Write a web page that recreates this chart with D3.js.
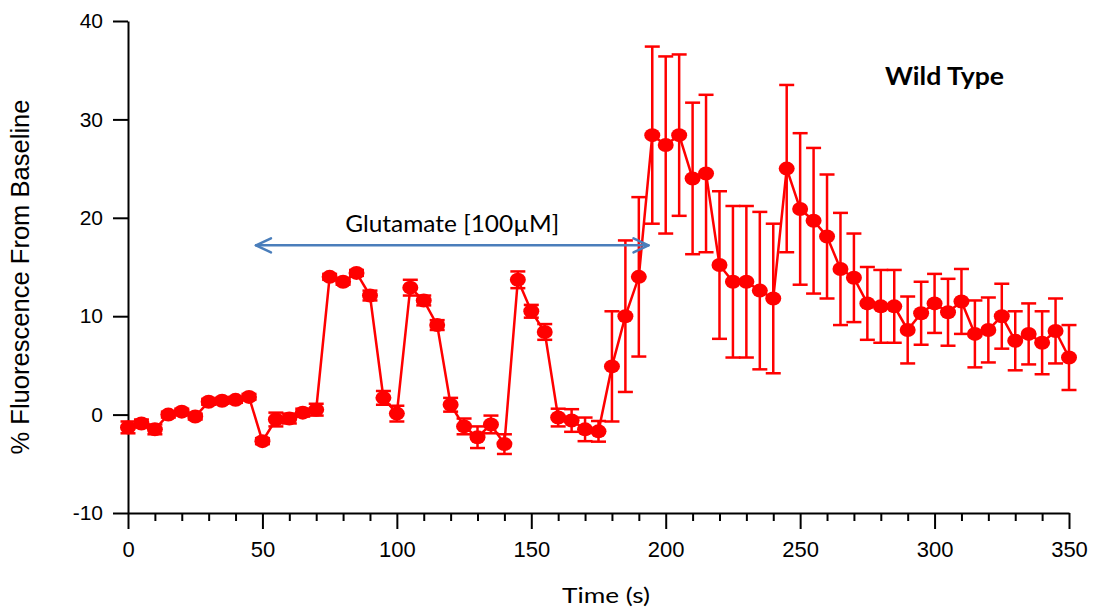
<!DOCTYPE html>
<html>
<head>
<meta charset="utf-8">
<script src="https://cdn.jsdelivr.net/npm/d3@7"></script>
<style>
  body { margin: 0; background: #fff; }
  #chart text { fill: #000; }
</style>
</head>
<body>
<div id="chart"></div>
<script>
// time points (s)
var times = [0, 5, 10, 15, 20, 25, 30, 35, 40, 45, 50, 55, 60, 65, 70,
  75, 80, 85, 90, 95, 100, 105, 110, 115, 120, 125, 130, 135, 140,
  145, 150, 155, 160, 165, 170, 175, 180, 185, 190, 195, 200, 205, 210,
  215, 220, 225, 230, 235, 240, 245, 250, 255, 260, 265, 270, 275, 280,
  285, 290, 295, 300, 305, 310, 315, 320, 325, 330, 335, 340, 345, 350];

// % fluorescence from baseline
var means = [-1.3, -0.9, -1.5, 0.0, 0.3, -0.2, 1.3, 1.4, 1.5, 1.8, -2.7, -0.5, -0.4, 0.2, 0.5,
  14.0, 13.5, 14.4, 12.1, 1.7, 0.1, 12.9, 11.6, 9.1, 1.0, -1.2, -2.3, -1.0, -3.0,
  13.7, 10.5, 8.4, -0.3, -0.6, -1.5, -1.7, 4.9, 10.0, 14.0, 28.4, 27.4, 28.4, 24.0,
  24.5, 15.2, 13.5, 13.5, 12.6, 11.8, 25.0, 20.9, 19.7, 18.1, 14.8, 13.9, 11.3, 11.0,
  11.0, 8.6, 10.3, 11.3, 10.4, 11.5, 8.2, 8.6, 10.0, 7.5, 8.2, 7.3, 8.5, 5.8];

// error (+/-)
var errors = [0.6, 0.4, 0.5, 0.3, 0.3, 0.3, 0.3, 0.3, 0.3, 0.3, 0.3, 0.7, 0.5, 0.4, 0.6,
  0.3, 0.3, 0.3, 0.5, 0.7, 0.8, 0.8, 0.5, 0.5, 0.7, 0.8, 1.1, 0.9, 1.0,
  0.85, 0.65, 0.8, 0.9, 1.15, 1.2, 1.05, 5.6, 7.7, 8.1, 9.0, 9.0, 8.2, 7.7,
  8.0, 7.5, 7.7, 7.7, 8.0, 7.6, 8.5, 7.7, 7.4, 6.3, 5.7, 4.5, 3.7, 3.7,
  3.7, 3.4, 3.2, 3.0, 3.4, 3.3, 3.4, 3.3, 3.3, 3.0, 3.1, 3.2, 3.3, 3.3];

var xMajorTicks = [0, 50, 100, 150, 200, 250, 300, 350];
var yTicks = [-10, 0, 10, 20, 30, 40];

// glutamate application window (s) and arrow level
var glutStart = 47.6;
var glutEnd = 193.6;
var glutLevel = 17.2;

var width = 1096, height = 612;
var red = '#ff0000', blue = '#4a7ebb';

var data = times.map(function (t, i) {
  return { t: t, v: means[i], e: errors[i] };
});

var svg = d3.select('#chart').append('svg')
  .attr('width', width)
  .attr('height', height);

var x = d3.scaleLinear().domain([0, 350]).range([128, 1069]);
var y = d3.scaleLinear().domain([-10, 40]).range([513, 21]);

var plain = function (d) { return String(d); }; // hyphen minus, like the original

// y axis
var yAxis = svg.append('g')
  .attr('transform', 'translate(' + x(0) + ',0)')
  .call(d3.axisLeft(y).tickValues(yTicks).tickFormat(plain)
    .tickSize(15).tickPadding(10).tickSizeOuter(0));
yAxis.select('.domain').attr('stroke', '#000').attr('stroke-width', 2);
yAxis.selectAll('.tick line').attr('stroke', '#000').attr('stroke-width', 2);
yAxis.selectAll('.tick text')
  .attr('font-family', 'Liberation Sans, Arial, sans-serif')
  .attr('font-size', 21);

// x axis: minor ticks every 10, majors every 50
var minorTicks = times.filter(function (t) { return t % 10 === 0 && t % 50 !== 0; });
var xMinor = svg.append('g')
  .attr('transform', 'translate(0,' + y(-10) + ')')
  .call(d3.axisBottom(x).tickValues(minorTicks).tickSize(8).tickFormat('').tickSizeOuter(0));
xMinor.select('.domain').attr('stroke', '#000').attr('stroke-width', 2);
xMinor.selectAll('.tick line').attr('stroke', '#000').attr('stroke-width', 2);

var xMajor = svg.append('g')
  .attr('transform', 'translate(0,' + y(-10) + ')')
  .call(d3.axisBottom(x).tickValues(xMajorTicks).tickFormat(plain)
    .tickSize(16).tickPadding(12).tickSizeOuter(0));
xMajor.select('.domain').remove();
xMajor.selectAll('.tick line').attr('stroke', '#000').attr('stroke-width', 2);
xMajor.selectAll('.tick text')
  .attr('font-family', 'Liberation Sans, Arial, sans-serif')
  .attr('font-size', 22);

// axis titles
svg.append('text')
  .attr('x', 606).attr('y', 603)
  .attr('text-anchor', 'middle')
  .attr('font-family', 'Lato, sans-serif')
  .attr('font-size', 22)
  .attr('textLength', 88)
  .attr('lengthAdjust', 'spacingAndGlyphs')
  .text('Time (s)');

svg.append('text')
  .attr('transform', 'translate(29,277) rotate(-90)')
  .attr('text-anchor', 'middle')
  .attr('font-family', 'Liberation Sans, Arial, sans-serif')
  .attr('font-size', 25)
  .attr('textLength', 355)
  .attr('lengthAdjust', 'spacingAndGlyphs')
  .text('% Fluorescence From Baseline');

// error bars
var eb = svg.append('g').attr('stroke', red).attr('stroke-width', 2.5);
eb.selectAll('line.bar').data(data).enter().append('line')
  .attr('class', 'bar')
  .attr('x1', function (d) { return x(d.t); })
  .attr('x2', function (d) { return x(d.t); })
  .attr('y1', function (d) { return y(d.v + d.e); })
  .attr('y2', function (d) { return y(d.v - d.e); });
eb.selectAll('line.capTop').data(data).enter().append('line')
  .attr('class', 'capTop')
  .attr('x1', function (d) { return x(d.t) - 7.5; })
  .attr('x2', function (d) { return x(d.t) + 7.5; })
  .attr('y1', function (d) { return y(d.v + d.e); })
  .attr('y2', function (d) { return y(d.v + d.e); });
eb.selectAll('line.capBot').data(data).enter().append('line')
  .attr('class', 'capBot')
  .attr('x1', function (d) { return x(d.t) - 7.5; })
  .attr('x2', function (d) { return x(d.t) + 7.5; })
  .attr('y1', function (d) { return y(d.v - d.e); })
  .attr('y2', function (d) { return y(d.v - d.e); });

// mean line
var line = d3.line()
  .x(function (d) { return x(d.t); })
  .y(function (d) { return y(d.v); });
svg.append('path')
  .datum(data)
  .attr('d', line)
  .attr('fill', 'none')
  .attr('stroke', red)
  .attr('stroke-width', 2.5);

// markers
svg.selectAll('ellipse.pt').data(data).enter().append('ellipse')
  .attr('class', 'pt')
  .attr('cx', function (d) { return x(d.t); })
  .attr('cy', function (d) { return y(d.v); })
  .attr('rx', 8)
  .attr('ry', 7)
  .attr('fill', red);

// glutamate arrow
var ax1 = x(glutStart), ax2 = x(glutEnd), ay = y(glutLevel);
var arrow = svg.append('g')
  .attr('stroke', blue)
  .attr('stroke-width', 2.5)
  .attr('fill', 'none')
  .attr('stroke-linecap', 'round')
  .attr('stroke-linejoin', 'round');
arrow.append('line').attr('x1', ax1).attr('x2', ax2).attr('y1', ay).attr('y2', ay);
arrow.append('path').attr('d', 'M' + (ax1 + 15) + ',' + (ay - 7) + 'L' + ax1 + ',' + ay + 'L' + (ax1 + 15) + ',' + (ay + 7));
arrow.append('path').attr('d', 'M' + (ax2 - 15) + ',' + (ay - 7) + 'L' + ax2 + ',' + ay + 'L' + (ax2 - 15) + ',' + (ay + 7));

svg.append('text')
  .attr('x', (ax1 + ax2) / 2)
  .attr('y', ay - 13)
  .attr('text-anchor', 'middle')
  .attr('font-family', 'Lato, sans-serif')
  .attr('font-size', 23)
  .attr('textLength', 214)
  .attr('lengthAdjust', 'spacingAndGlyphs')
  .text('Glutamate [100\u00b5M]');

// panel label
svg.append('text')
  .attr('x', 885).attr('y', 85)
  .attr('font-family', 'Lato, sans-serif')
  .attr('font-weight', 'bold')
  .attr('font-size', 24)
  .attr('textLength', 119)
  .attr('lengthAdjust', 'spacingAndGlyphs')
  .text('Wild Type');
</script>
</body>
</html>
